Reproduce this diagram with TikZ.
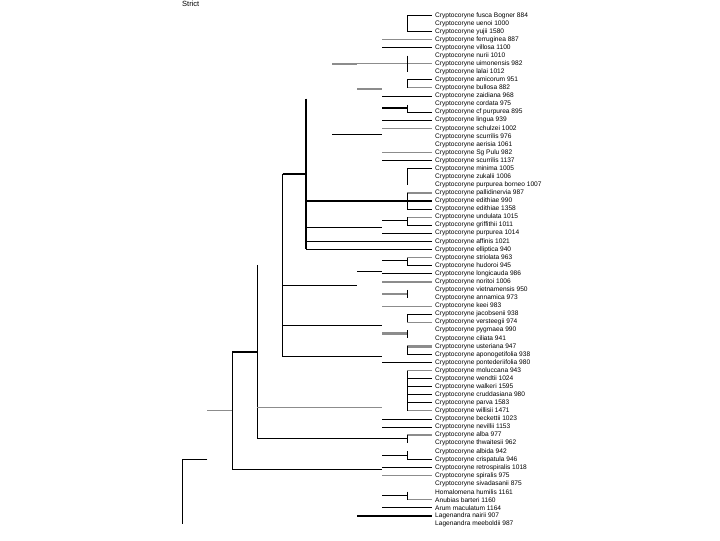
\documentclass[tikz,border=0pt]{standalone}
\usepackage{fontspec}
\setmainfont{Liberation Sans}
\usepackage{xcolor}
\definecolor{grayline}{gray}{0.55}

\begin{document}
\begin{tikzpicture}[x=1pt, y=-8.075pt,
	blk/.style={black, line width=1.1pt},
	gry/.style={grayline, line width=1pt},
	thk/.style={grayline, line width=2.4pt},
	leaf/.style={anchor=west, inner xsep=3pt, inner ysep=0pt, font=\fontsize{6.6}{7}\selectfont}]
	\useasboundingbox (0,-0.895) rectangle (720,65.98);
	\node[anchor=west, inner sep=0pt, font=\fontsize{7.5}{8}\selectfont] (strict) at (182,-0.46) {Strict};
	% depth levels of the tree
	\foreach \x [count=\k] in {182.7,207.3,232.3,257.3,282.7,306,332.3,357,382,407.3}
		\coordinate (lv\k) at (\x,0);
	% taxa
	\foreach \name [count=\i] in {Cryptocoryne fusca Bogner 884, Cryptocoryne uenoi 1000, Cryptocoryne yujii 1580,
		Cryptocoryne ferruginea 887, Cryptocoryne villosa 1100, Cryptocoryne nurii 1010, Cryptocoryne uimonensis 982,
		Cryptocoryne lalai 1012, Cryptocoryne amicorum 951, Cryptocoryne bullosa 882, Cryptocoryne zaidiana 968,
		Cryptocoryne cordata 975, Cryptocoryne cf purpurea 895, Cryptocoryne lingua 939, Cryptocoryne schulzei 1002,
		Cryptocoryne scurrilis 976, Cryptocoryne aerisia 1061, Cryptocoryne Sg Pulu 982, Cryptocoryne scurrilis 1137,
		Cryptocoryne minima 1005, Cryptocoryne zukalii 1006, Cryptocoryne purpurea borneo 1007,
		Cryptocoryne pallidinervia 987, Cryptocoryne edithiae 990, Cryptocoryne edithiae 1358,
		Cryptocoryne undulata 1015, Cryptocoryne griffithii 1011, Cryptocoryne purpurea 1014,
		Cryptocoryne affinis 1021, Cryptocoryne elliptica 940, Cryptocoryne striolata 963,
		Cryptocoryne hudoroi 945, Cryptocoryne longicauda 986, Cryptocoryne noritoi 1006,
		Cryptocoryne vietnamensis 950, Cryptocoryne annamica 973, Cryptocoryne keei 983,
		Cryptocoryne jacobsenii 938, Cryptocoryne versteegii 974, Cryptocoryne pygmaea 990,
		Cryptocoryne ciliata 941, Cryptocoryne usteriana 947, Cryptocoryne aponogetifolia 938,
		Cryptocoryne pontederiifolia 980, Cryptocoryne moluccana 943, Cryptocoryne wendtii 1024,
		Cryptocoryne walkeri 1595, Cryptocoryne cruddasiana 980, Cryptocoryne parva 1583,
		Cryptocoryne willisii 1471, Cryptocoryne beckettii 1023, Cryptocoryne nevillii 1153,
		Cryptocoryne alba 977, Cryptocoryne thwaitesii 962, Cryptocoryne albida 942,
		Cryptocoryne crispatula 946, Cryptocoryne retrospiralis 1018, Cryptocoryne spiralis 975,
		Cryptocoryne sivadasanii 875, Homalomena humilis 1161, Anubias barteri 1160,
		Arum maculatum 1164, Lagenandra nairii 907, Lagenandra meeboldii 987}
		\node[leaf] (t\i) at (432,\i) {\name};
	% leaf branches
	\foreach \i/\k in {1/10,3/10,9/10,13/10,20/10,25/10,27/10,32/10,38/10,43/10,46/10,47/10,48/10,49/10,56/10,
		5/9,11/9,14/9,19/9,28/9,33/9,44/9,51/9,52/9,57/9,62/9,63/8,24/6,29/6,30/6}
		\draw[blk] (lv\k |- t\i.west) -- (t\i.west);
	\foreach \i/\k in {10/10,26/10,31/10,39/10,45/10,50/10,61/10,4/9,15/9,18/9,37/9,58/9,7/8}
		\draw[gry] (lv\k |- t\i.west) -- (t\i.west);
	\foreach \i/\k in {23/10,42/10,53/10,34/9}
		\draw[thk] (lv\k |- t\i.west) -- (t\i.west);
	% brackets
	\foreach \a/\b in {1/3,6/8,9/10,20/22,23/25,26/27,31/32,35/36,38/39,40/41,42/43,45/50,53/54,55/56,60/61}
		\draw[blk] (lv10 |- t\a.west) -- (lv10 |- t\b.west);
	\draw[blk] (lv10 |- t12.west) ++(0,0.08) -- (lv10 |- t13.west);
	% inner branches
	\draw[blk] (382,12.48) -- (407.3,12.48);
	\draw[blk] (332.3,15.74) -- (382,15.74);
	\draw[blk] (382,26.44) -- (407.3,26.44);
	\draw[blk] (306,27.25) -- (382,27.25);
	\draw[blk] (382,31.39) -- (407.3,31.39);
	\draw[blk] (306,11.33) -- (306,30);
	\draw[blk] (282.7,20.65) -- (306,20.65);
	\draw[blk] (282.7,20.65) -- (282.7,43.28);
	\draw[blk] (357,32.7) -- (382,32.7);
	\draw[blk] (282.7,34.44) -- (357,34.44);
	\draw[blk] (282.7,39.39) -- (382,39.39);
	\draw[blk] (282.7,43.28) -- (382,43.28);
	\draw[blk] (257.3,31.92) -- (257.3,53.38) -- (407.3,53.38);
	\draw[blk] (382,55.49) -- (407.3,55.49);
	\draw[blk] (232.3,42.7) -- (257.3,42.7);
	\draw[blk] (232.3,42.7) -- (232.3,57.22) -- (382,57.22);
	\draw[blk] (382,60.5) -- (407.3,60.5);
	\draw[blk] (207.3,55.98) -- (182.7,55.98) -- (182.7,64);
	\draw[gry] (257.3,49.63) -- (382,49.63);
	\draw[gry] (207.3,49.92) -- (232.3,49.92);
	\draw[thk] (332.3,7) -- (357,7);
	\draw[thk] (357,10.16) -- (382,10.16);
	\draw[thk] (382,35.5) -- (407.3,35.5);
	\draw[thk] (382,40.38) -- (407.3,40.38);
\end{tikzpicture}
\end{document}
